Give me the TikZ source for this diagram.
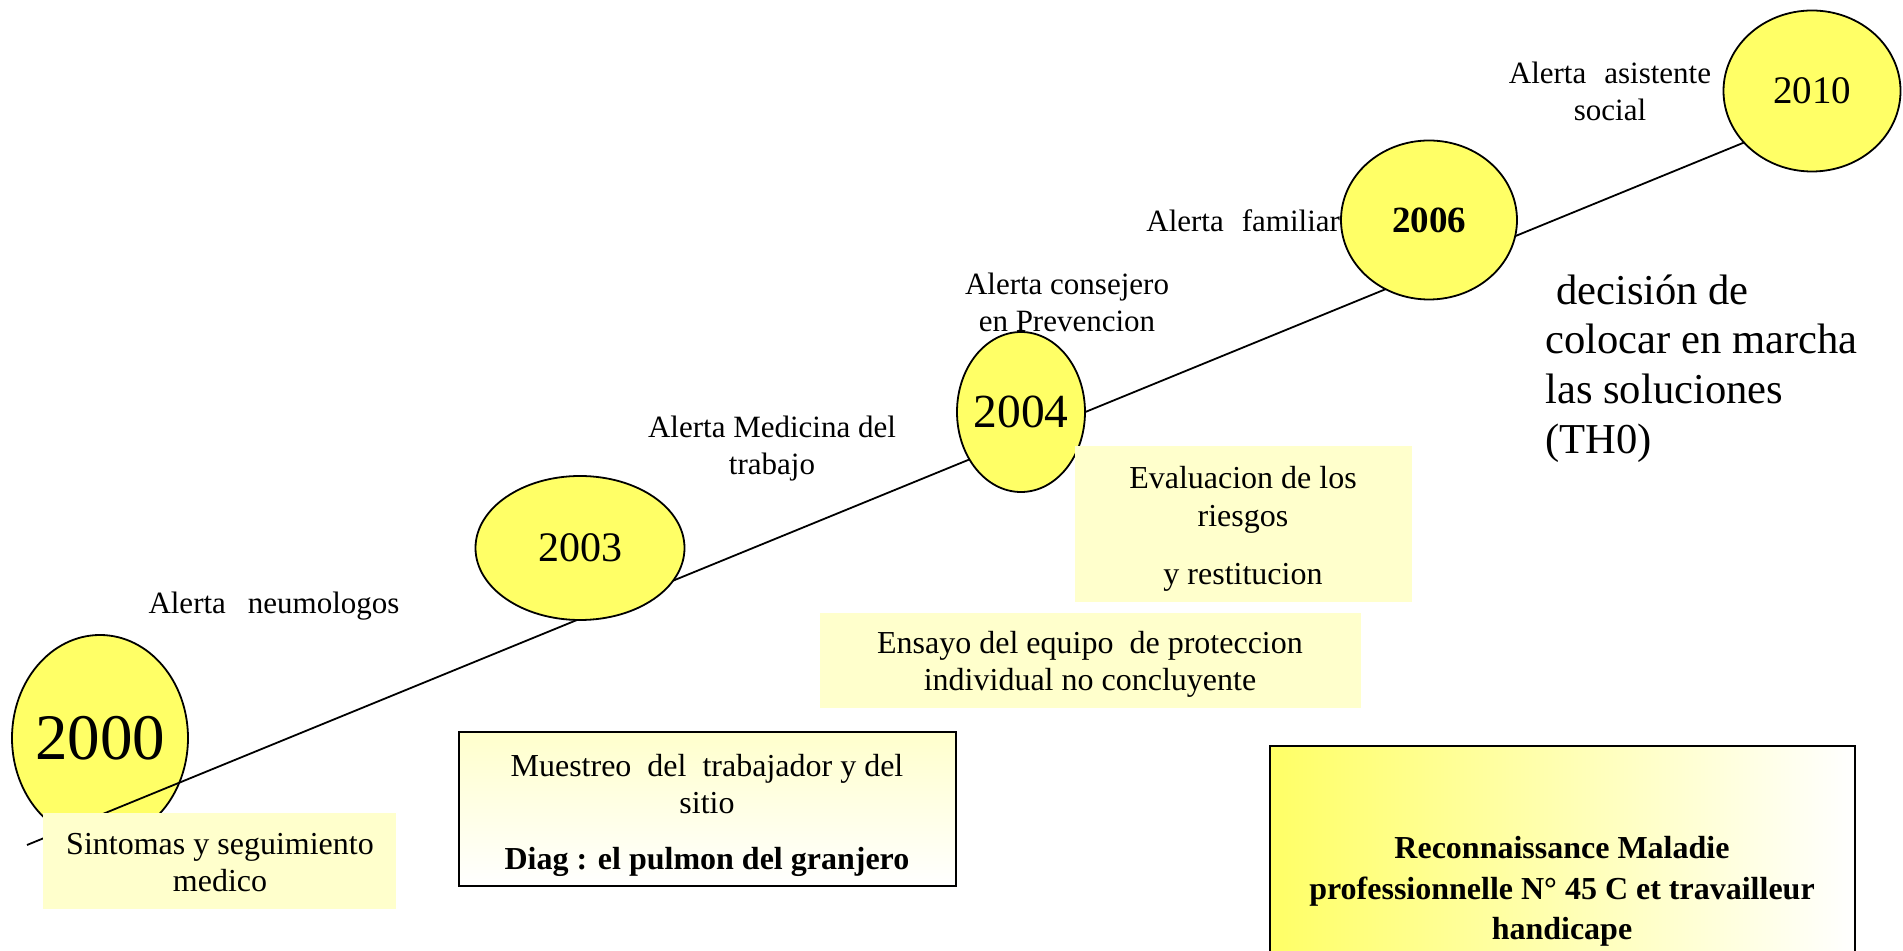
\documentclass[tikz,border=0pt]{standalone}
\usepackage{fontspec}
\setmainfont{Liberation Serif}
\usetikzlibrary{shapes.geometric}
\definecolor{ellyellow}{HTML}{FFFF66}
\definecolor{paleyellow}{HTML}{FFFFCC}
\tikzset{
  year/.style={ellipse, draw=black, line width=0.9pt, fill=ellyellow, inner sep=0pt},
  lbl/.style={align=center, inner sep=0pt, font=\fontsize{15.5}{18.5}\selectfont},
  palebox/.style={rectangle, fill=paleyellow, inner sep=0pt},
  framedbox/.style={rectangle, draw=black, line width=0.8pt, inner sep=0pt},
  boxtext/.style={align=center, inner sep=0pt},
  timeline/.style={line width=0.9pt}
}
\begin{document}
\begin{tikzpicture}[x=0.5pt,y=-0.5pt]
\useasboundingbox (0,0) rectangle (1903,951);
% year ellipses and time line
\node[year, minimum width=88pt, minimum height=103pt, font=\fontsize{32.5}{36}\selectfont] (y2000) at (100,738) {\makebox[0pt]{2000}};
\coordinate (start) at (27,845);
\coordinate (end) at (1760,136);
\draw[timeline] (start) -- (end);
\node[year, minimum width=104.5pt, minimum height=72pt, font=\fontsize{21}{24}\selectfont] (y2003) at (580,548) {\makebox[0pt]{2003}};
\node[year, minimum width=64pt, minimum height=80pt, font=\fontsize{23.75}{26}\selectfont] (y2004) at (1021,412) {\makebox[0pt]{2004}};
\node[lbl, anchor=base west] (lfam) at (1146,232) {Alerta\hspace{9pt}familiar};
\node[year, minimum width=88pt, minimum height=79.5pt, font=\bfseries\fontsize{18.5}{22}\selectfont] (y2006) at (1429,220) {\makebox[0pt]{2006}};
\node[year, minimum width=88.5pt, minimum height=80.5pt, font=\fontsize{19.5}{22}\selectfont] (y2010) at (1812,91) {\makebox[0pt]{2010}};
% alert labels (base anchor = baseline of the last line)
\node[lbl, anchor=base] (lneu) at (274,614) {Alerta\hspace{11pt}neumologos};
\node[lbl, anchor=base] (lmed) at (772,475) {Alerta Medicina del\\trabajo};
\node[lbl, anchor=base] (lcons) at (1067,332) {Alerta consejero\\en Prevencion};
\node[lbl, anchor=base] (lasis) at (1610,120.5) {Alerta\hspace{9pt}asistente\\social};
% decision text
\node[align=left, inner sep=0pt, anchor=base west, font=\fontsize{21.3}{24.9}\selectfont] (dec) at (1545,453.5) {\ decisión de\\colocar en marcha\\las soluciones\\(TH0)};
% boxes
\node[palebox, minimum width=176.5pt, minimum height=48pt] (sintbox) at (219.5,861) {};
\node[boxtext, anchor=base, font=\fontsize{16}{18.5}\selectfont] (sint) at (220,891.5) {Sintomas y seguimiento\\medico};
\node[framedbox, top color=paleyellow, bottom color=white, minimum width=248.5pt, minimum height=77pt] (muebox) at (707.5,809) {};
\node[boxtext, anchor=base, font=\fontsize{16}{18.5}\selectfont] (mue) at (707,869.5) {Muestreo\ \ del\ \ trabajador y del\\sitio\\[9.5pt]\textbf{Diag : el pulmon del granjero}};
\node[palebox, minimum width=168.5pt, minimum height=78pt] (evalbox) at (1243.5,524) {};
\node[boxtext, anchor=base, font=\fontsize{16}{19}\selectfont] (eval) at (1243,584.5) {Evaluacion de los\\riesgos\\[10pt]y restitucion};
\node[palebox, minimum width=270.5pt, minimum height=47.5pt] (ensbox) at (1090.5,660.5) {};
\node[boxtext, anchor=base, font=\fontsize{16}{18.5}\selectfont] (ens) at (1090,691) {Ensayo del equipo\ \ de proteccion\\individual no concluyente};
\node[framedbox, left color=ellyellow, right color=white, minimum width=292.5pt, minimum height=127pt] (recbox) at (1562.5,873) {};
\node[boxtext, anchor=base, font=\bfseries\fontsize{16}{20.25}\selectfont] (rec) at (1562,940) {Reconnaissance Maladie\\professionnelle N° 45 C et travailleur\\handicape};
\end{tikzpicture}
\end{document}
